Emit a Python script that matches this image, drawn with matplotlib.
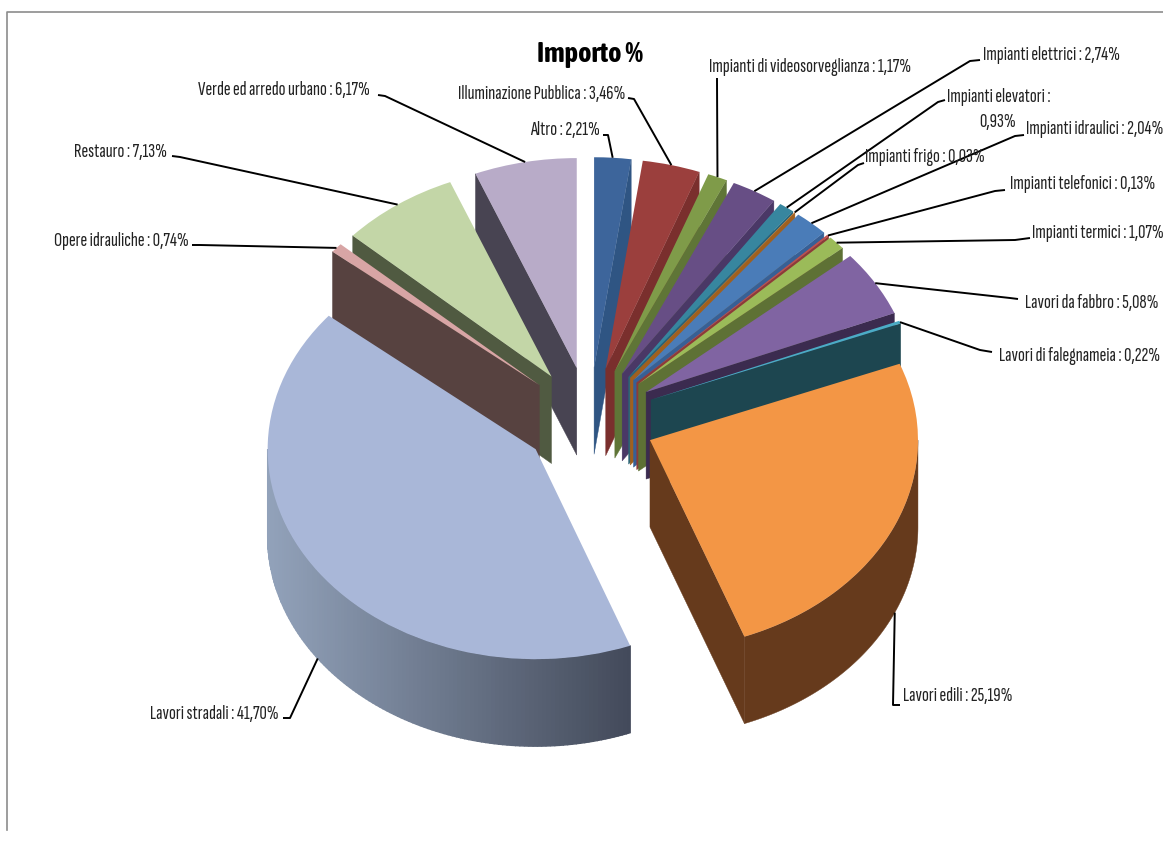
import numpy as np
import matplotlib
matplotlib.use('Agg')
import matplotlib.pyplot as plt
from matplotlib.colors import to_rgb
from matplotlib.patches import Polygon

names = ['Altro', 'Illuminazione Pubblica', 'Impianti di videosorveglianza', 'Impianti elettrici',
         'Impianti elevatori', 'Impianti frigo', 'Impianti idraulici', 'Impianti telefonici',
         'Impianti termici', 'Lavori da fabbro', 'Lavori di falegnameia', 'Lavori edili',
         'Lavori stradali', 'Opere idrauliche', 'Restauro', 'Verde ed arredo urbano']
values = [2.21, 3.46, 1.17, 2.74, 0.93, 0.03, 2.04, 0.13, 1.07, 5.08, 0.22, 25.19, 41.70, 0.74, 7.13, 6.17]
value_labels = ['2,21%', '3,46%', '1,17%', '2,74%', '0,93%', '0,03%', '2,04%', '0,13%',
                '1,07%', '5,08%', '0,22%', '25,19%', '41,70%', '0,74%', '7,13%', '6,17%']
top_colors = ['#3D659B', '#9B3F3D', '#7F9B49', '#674E85', '#37869F', '#F79646', '#4A7CB8', '#C0504D',
              '#9BBB59', '#8064A2', '#4BACC6', '#F39645', '#A9B7D8', '#D8A5A5', '#C3D6A7', '#B8ABC8']
wall_colors = ['#2F5583', '#7A2F2D', '#5F7537', '#4A3866', '#2A6578', '#A0601F', '#376096', '#8E3A38',
               '#5E7135', '#3B2B4F', '#1D4650', '#663A1C', '#92A2BA', '#574240', '#505A41', '#484452']
wall_end_colors = {12: '#434A5A'}

# label text anchor (left x, centre y) and elbow/start of the leader, in picture pixels
label_pos = [(530, 130), (458, 94), (709, 67), (983, 55), (947, 97), (865, 157), (1026, 129), (1010, 184),
             (1032, 233), (1025, 303), (999, 356), (903, 696), (150, 714), (54, 241), (74, 152), (198, 90)]
leader_start = [(603, 135), (628, 98), (717, 78), (980, 60), (945, 100), (864, 163), (1024, 135), (1005, 190),
                (1030, 238), (1018, 299), (992, 352), (900, 705), (283, 718), (192, 245), (172, 156), (378, 95)]
leader_elbow = [(608, 135), (634, 99), (717, 80), (970, 61), (938, 102), (858, 165), (1015, 136), (995, 191),
                (1015, 240), (1010, 298), (980, 350), (893, 705), (290, 718), (200, 245), (180, 157), (385, 96)]

W, H = 1163, 842
CX, CY = 589.5, 419.0
RX, RY = 268.0, 210.0
DEPTH = 87.0 / RY
EXPLODE = 0.247
FONT = ['Sofia Sans Extra Condensed', 'Liberation Sans', 'DejaVu Sans']
TITLE_FONT = ['Asap Condensed', 'Liberation Sans', 'DejaVu Sans']
FS = 14.7


def px(x, y):
    return (x - CX) / RX, (CY - y) / RY


fig = plt.figure(figsize=(W / 100, H / 100), dpi=100, facecolor='white')
ax = fig.add_axes([0, 0, 1, 1])

# top faces come straight from pie(), the axes scale squashes them into ellipses
wedges, _ = ax.pie(values, explode=[EXPLODE] * len(values), colors=top_colors, startangle=90,
                   counterclock=False, radius=1, wedgeprops={'linewidth': 0})
ax.set_aspect('auto')
ax.set_xlim(px(0, 0)[0], px(W, 0)[0])
ax.set_ylim(px(0, H)[1], px(0, 0)[1])
ax.axis('off')

fractions = np.array(values) / sum(values)
ends = np.cumsum(fractions) * 2 * np.pi
starts = ends - fractions * 2 * np.pi
mids = (starts + ends) / 2
order = np.argsort(-np.cos(mids))

for rank, i in enumerate(order):
    z = 2 + rank
    ax0 = EXPLODE * np.sin(mids[i])
    ay0 = EXPLODE * np.cos(mids[i])
    c = wall_colors[i]
    # cut faces, skip the one that extrudes under its own top
    for a, visible in ((starts[i], np.sin(starts[i]) < 0), (ends[i], np.sin(ends[i]) > 0)):
        if not visible:
            continue
        ex, ey = ax0 + np.sin(a), ay0 + np.cos(a)
        ax.add_patch(Polygon([(ax0, ay0), (ex, ey), (ex, ey - DEPTH), (ax0, ay0 - DEPTH)],
                             closed=True, facecolor=c, edgecolor=c, linewidth=0.3, zorder=z))
    # rim, only the part facing the viewer
    a0 = max(starts[i], np.pi / 2)
    a1 = min(ends[i], 3 * np.pi / 2)
    if a1 > a0:
        ts = np.linspace(a0, a1, 121)
        xs = ax0 + np.sin(ts)
        ys = ay0 + np.cos(ts)
        if i in wall_end_colors:
            c0 = np.array(to_rgb(c))
            c1 = np.array(to_rgb(wall_end_colors[i]))
            xmin, xmax = xs.min(), xs.max()
            for k in range(len(ts) - 1):
                f = ((xs[k] + xs[k + 1]) / 2 - xmin) / (xmax - xmin)
                col = c0 + (c1 - c0) * f
                ax.add_patch(Polygon([(xs[k], ys[k]), (xs[k + 1], ys[k + 1]),
                                      (xs[k + 1], ys[k + 1] - DEPTH), (xs[k], ys[k] - DEPTH)],
                                     closed=True, facecolor=col, edgecolor=col, linewidth=1.0, zorder=z))
        else:
            rim = np.column_stack([np.r_[xs, xs[::-1]], np.r_[ys, ys[::-1] - DEPTH]])
            ax.add_patch(Polygon(rim, closed=True, facecolor=c, edgecolor=c, linewidth=0.3, zorder=z))
    wedges[i].set_zorder(z + 0.5)

# leader lines end on the rim of their slice
for i in range(len(values)):
    tx = EXPLODE * np.sin(mids[i]) + np.sin(mids[i])
    ty = EXPLODE * np.cos(mids[i]) + np.cos(mids[i])
    if np.cos(mids[i]) < 0:
        ty -= DEPTH
    p0 = px(*leader_start[i])
    p1 = px(*leader_elbow[i])
    ax.plot([p0[0], p1[0], tx], [p0[1], p1[1], ty], color='black', lw=1.4, zorder=50,
            solid_capstyle='butt')

for i, name in enumerate(names):
    x, y = px(*label_pos[i])
    if name == 'Impianti elevatori':
        ax.text(x, y, name + ' :', family=FONT, fontsize=FS, va='center', ha='left', color='#222222', zorder=60)
        x2, y2 = px(label_pos[i][0] + 51, label_pos[i][1] + 25)
        ax.text(x2, y2, value_labels[i], family=FONT, fontsize=FS, va='center', ha='center',
                color='#222222', zorder=60)
    else:
        ax.text(x, y, name + ' : ' + value_labels[i], family=FONT, fontsize=FS, va='center', ha='left',
                color='#222222', zorder=60)

tx, ty = px(590, 55)
ax.text(tx, ty, 'Importo %', family=TITLE_FONT, fontsize=20.5, fontweight='bold', ha='center', va='center',
        color='black', zorder=60)

# chart area outline, only top and left survive in the picture
bx = [px(7, 830)[0], px(7, 12)[0], px(W, 12)[0]]
by = [px(7, 830)[1], px(7, 12)[1], px(W, 12)[1]]
ax.plot(bx, by, color='#8C8C8C', lw=1.2, zorder=1)

fig.savefig('out.png', dpi=100, facecolor='white')
